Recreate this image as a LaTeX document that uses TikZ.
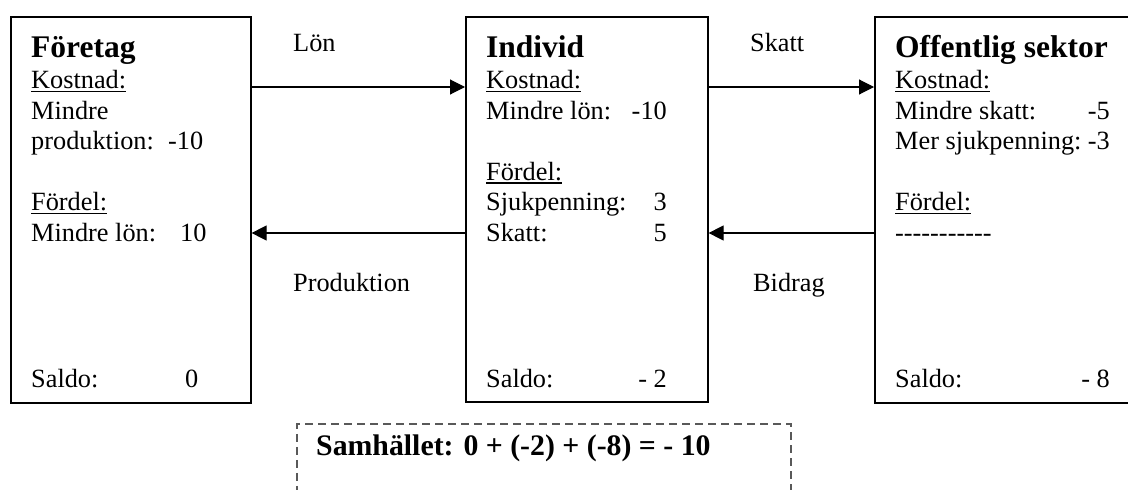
\documentclass[tikz,border=0pt]{standalone}
\usepackage{fontspec}
\setmainfont{Liberation Serif}
\usetikzlibrary{arrows.meta}

% underline in the style of a word processor: rule a little below the baseline
\newcommand{\undl}[1]{\setbox0\hbox{#1}\rlap{\rule[-3.6pt]{\wd0}{1.3pt}}\box0}
% single hyphen that never joins into a dash ligature
\newcommand{\hy}{\mbox{-}}

\tikzset{
  box/.style={draw=black, line width=1.6pt, inner sep=0pt, anchor=north west},
  txt/.style={anchor=base west, inner sep=0pt, font=\fontsize{26.3}{30}\selectfont},
  num/.style={anchor=base east, inner sep=0pt, font=\fontsize{26.3}{30}\selectfont},
  head/.style={anchor=base west, inner sep=0pt, font=\fontsize{31.5}{36}\selectfont\bfseries},
  total/.style={anchor=base west, inner sep=0pt, font=\fontsize{29.8}{34}\selectfont\bfseries},
  flow/.style={draw=black, line width=1.1pt, -{Triangle[length=15pt,width=15pt]}},
  sumbox/.style={draw=black!65, line width=1.5pt, dash pattern=on 8pt off 5pt,
                 inner sep=0pt, anchor=north west},
}

\begin{document}
\begin{tikzpicture}[x=1pt,y=-1pt]
  \useasboundingbox (0,0) rectangle (1128,490);
  \clip (0,0) rectangle (1128,490);

  % the three sectors
  \node[box, minimum width=240pt, minimum height=386pt] (firm) at (10,16) {};
  \node[box, minimum width=242pt, minimum height=385pt] (ind)  at (465,16) {};
  \node[box, minimum width=290pt, minimum height=386pt] (pub)  at (874,16) {};

  % flow rows
  \coordinate (rowA) at (0,87);
  \coordinate (rowB) at (0,233);

  \draw[flow] (firm.east |- rowA) -- (ind.west |- rowA);
  \draw[flow] (ind.east |- rowA)  -- (pub.west |- rowA);
  \draw[flow] (ind.west |- rowB)  -- (firm.east |- rowB);
  \draw[flow] (pub.west |- rowB)  -- (ind.east |- rowB);

  % label patch over the left edge of the public sector box
  \fill[white] (872.4,255) rectangle (873.9,305);

  \node[txt] (lLon)  at (293,51)  {Lön};
  \node[txt] (lSk)   at (750,51)  {Skatt};
  \node[txt] (lProd) at (293,291) {Produktion};
  \node[txt] (lBid)  at (753,291) {Bidrag};

  % Företag
  \node[head] (f0) at (31,57)    {Företag};
  \node[txt]  (f1) at (31,88.5)  {\undl{Kostnad:}};
  \node[txt]  (f2) at (31,119)   {Mindre};
  \node[txt]  (f3) at (31,149.5) {produktion:};
  \node[txt]  (f3n) at (168,149.5) {\hy 10};
  \node[txt]  (f4) at (31,210.5) {\undl{Fördel:}};
  \node[txt]  (f5) at (31,241)   {Mindre lön:};
  \node[txt]  (f5n) at (180,241) {10};
  \node[txt]  (f6) at (31,387)   {Saldo:};
  \node[txt]  (f6n) at (185,387) {0};

  % Individ
  \node[head] (i0) at (486,57)    {Individ};
  \node[txt]  (i1) at (486,88.5)  {\undl{Kostnad:}};
  \node[txt]  (i2) at (486,119)   {Mindre lön:};
  \node[num]  (i2n) at (667,119)  {\hy 10};
  \node[txt]  (i3) at (486,180)   {\undl{Fördel:}};
  \node[txt]  (i4) at (486,210.5) {Sjukpenning:};
  \node[num]  (i4n) at (667,210.5) {3};
  \node[txt]  (i5) at (486,241)   {Skatt:};
  \node[num]  (i5n) at (667,241)  {5};
  \node[txt]  (i6) at (486,387)   {Saldo:};
  \node[num]  (i6n) at (667,387)  {\hy\ 2};

  % Offentlig sektor
  \node[head] (p0) at (895,57)    {Offentlig sektor};
  \node[txt]  (p1) at (895,88.5)  {\undl{Kostnad:}};
  \node[txt]  (p2) at (895,119)   {Mindre skatt:};
  \node[num]  (p2n) at (1110,119) {\hy 5};
  \node[txt]  (p3) at (895,149.5) {Mer sjukpenning:};
  \node[num]  (p3n) at (1110,149.5) {\hy 3};
  \node[txt]  (p4) at (895,210.5) {\undl{Fördel:}};
  \node[txt]  (p5) at (895,241)   {\hy\hy\hy\hy\hy\hy\hy\hy\hy\hy\hy};
  \node[txt]  (p6) at (895,387)   {Saldo:};
  \node[num]  (p6n) at (1110,387) {\hy\ 8};

  % society total
  \node[sumbox, minimum width=494pt, minimum height=120pt] (soc) at (296,423) {};
  \node[total] (socT) at (316,455) {Samhället: 0 + (\hy 2) + (\hy 8) = \hy\ 10};
\end{tikzpicture}
\end{document}
